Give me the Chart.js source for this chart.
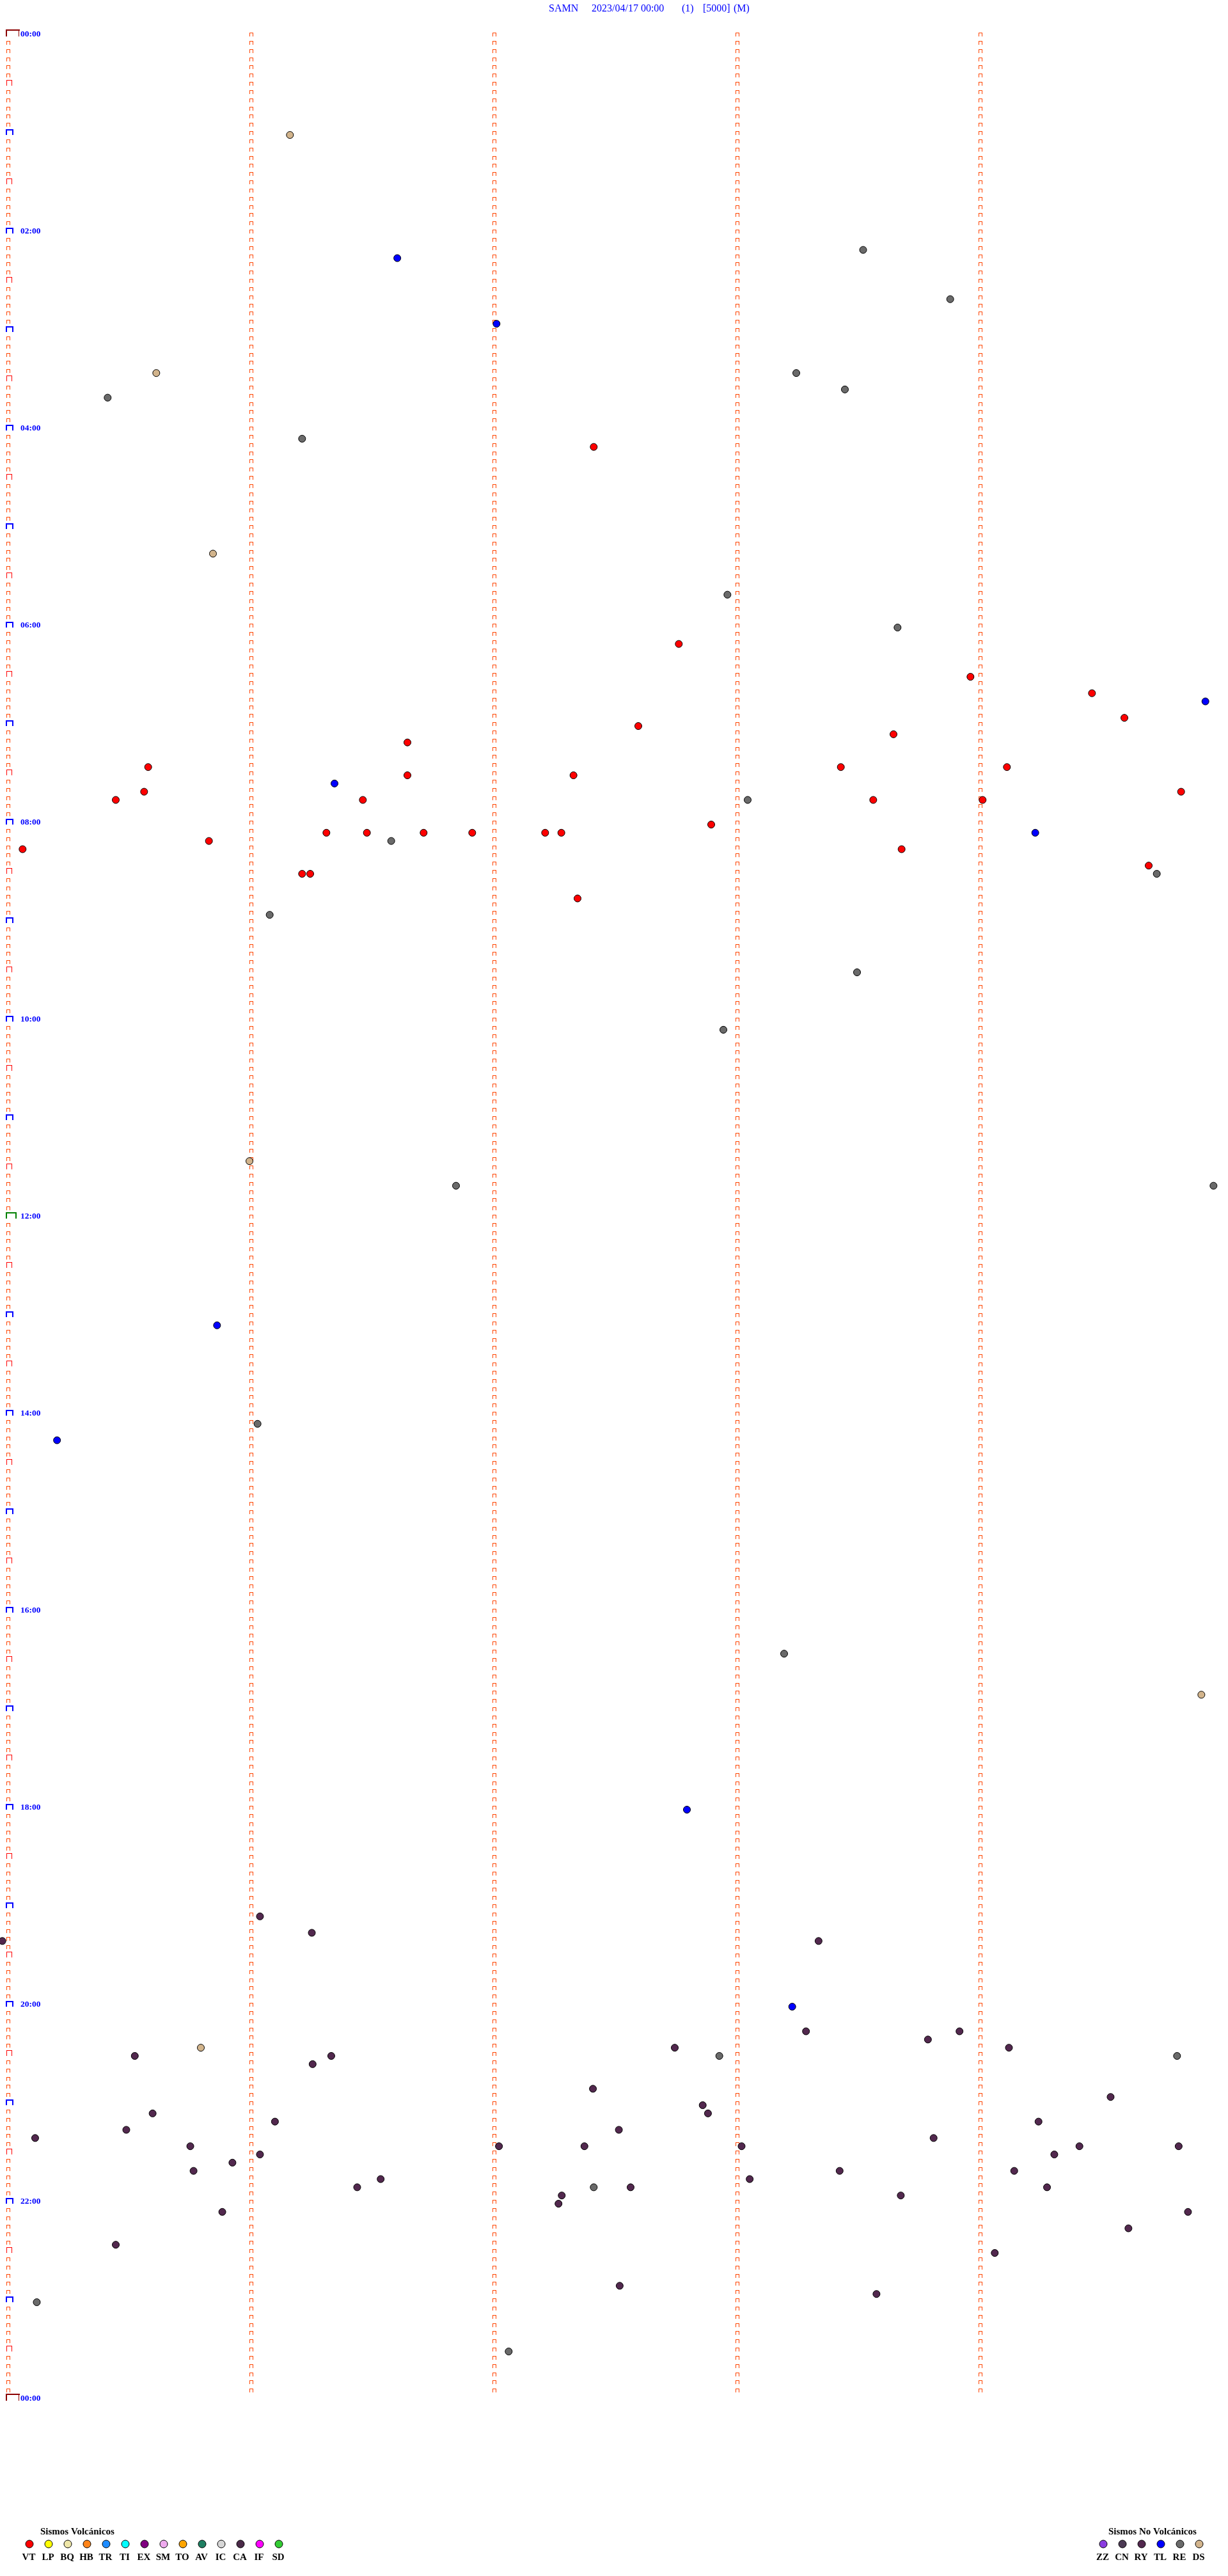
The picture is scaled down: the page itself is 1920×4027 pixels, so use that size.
<!DOCTYPE html>
<html><head><meta charset="utf-8">
<script src="https://cdn.jsdelivr.net/npm/chart.js@4.4.0/dist/chart.umd.min.js"></script>
<style>html,body{margin:0;padding:0;background:#fff;}canvas{display:block;}</style>
</head><body>
<canvas id="c" width="1920" height="4027" style="width:1920px;height:4027px"></canvas>
<script>
// ---- data ----
const titleParts = ["SAMN", "2023/04/17 00:00", "(1)", "[5000]", "(M)"];
const hourLabels = ["00:00","02:00","04:00","06:00","08:00","10:00","12:00","14:00","16:00","18:00","20:00","22:00","00:00"];
const hourLabelMinutes = [0,120,240,360,480,600,720,840,960,1080,1200,1320,1440];
const columnSeconds = [0, 60, 120, 180, 240];
const rowMinutes = 5;

// event row (minute of day) and seconds within the 5-minute row
const vtMin = [250,370,390,400,415,420,425,430,445,445,445,450,450,460,460,465,465,465,465,480,485,485,485,485,485,485,490,495,495,505,510,510,525];
const vtSec = [145,166,238,268,276,156,219,99,35,206,247,99,140,34,290,27,88,214,241,174,79,89,103,115,133,137,50,4,221,282,73,75,141];
const tlMin = [135,175,405,455,485,785,855,1080,1200];
const tlSec = [96.5,121,296,81,254,52,12.5,168,194];
const reMin = [130,160,220,205,215,245,340,360,465,490,510,535,570,605,700,700,845,985,1230,1230,1310,1380,1410];
const reSec = [211.5,233,25,195,207,73,178,220,183,95,284,65,210,177,111,298,62,192,176,289,145,7.5,124];
const dsMin = [60,205,315,685,1010,1225];
const dsSec = [70,37,51,60,295,48];
const ryMin = [1145,1155,1160,1160,1215,1215,1220,1225,1225,1230,1230,1235,1250,1255,1260,1265,1265,1270,1270,1275,1275,1280,1280,1285,1285,1285,1285,1285,1285,1290,1290,1295,1300,1300,1300,1305,1305,1310,1310,1310,1315,1315,1320,1325,1325,1335,1345,1350,1370,1375];
const rySec = [62.6,75.4,-1,200.5,197.4,235.3,227.5,165,247.5,31.7,80.2,75.6,144.8,272.6,171.9,36.1,173.2,66.3,254.8,29.6,151.2,7.1,228.9,45.4,121.6,142.7,181.5,264.9,289.4,62.6,258.7,55.8,46.2,205.7,248.8,92.4,183.5,86.6,154.1,256.9,137.1,220.8,136.3,53.3,291.7,277,27,244,151.4,214.8];

const volcTitle = "Sismos Volcánicos";
const volcCodes = ["VT","LP","BQ","HB","TR","TI","EX","SM","TO","AV","IC","CA","IF","SD"];
const volcColors = ["#FF0000","#FFFF00","#EEE6A8","#FF8418","#1E8CFF","#00FFFF","#800080","#EEAAEE","#FFA500","#1F7F62","#D6D6D6","#4A2A48","#FF00FF","#33CC33"];
const nonVolcTitle = "Sismos No Volcánicos";
const nonVolcCodes = ["ZZ","CN","RY","TL","RE","DS"];
const nonVolcColors = ["#8A3CE0","#4C3A54","#52284E","#0000FF","#6A6A6A","#D2B48C"];

function pts(mins, secs){ return mins.map((m,i)=>({x:secs[i], y:m})); }

const drumPlugin = {
  id: 'drum',
  beforeDraw(chart){
    const ctx = chart.ctx; ctx.save(); ctx.fillStyle = '#fff'; ctx.fillRect(0,0,chart.width,chart.height); ctx.restore();
  },
  beforeDatasetsDraw(chart){
    const ctx = chart.ctx, xs = chart.scales.x, ys = chart.scales.y;
    ctx.save();
    const nRows = 1440 / rowMinutes;
    for (let c = 0; c < columnSeconds.length; c++){
      const x0 = Math.round(xs.getPixelForValue(columnSeconds[c]));
      const last = c === 0 ? nRows : nRows - 1;
      for (let r = 0; r <= last; r++){
        const y = Math.round(ys.getPixelForValue(r * rowMinutes));
        if (c === 0 && (r === 0 || r === nRows)){
          ctx.fillStyle = '#8B0000';
          ctx.fillRect(x0 - 1, y - 11, 22, 2);
          ctx.fillRect(x0 - 1, y - 11, 2, 11);
          ctx.fillRect(x0 + 19, y - 11, 1, 11);
        } else if (c === 0 && r === nRows/2){
          ctx.fillStyle = '#008000';
          ctx.fillRect(x0 - 1, y - 10, 17, 2);
          ctx.fillRect(x0 - 1, y - 10, 2, 10);
          ctx.fillRect(x0 + 14, y - 10, 2, 10);
        } else if (c === 0 && r % 12 === 0){
          ctx.fillStyle = '#0000FF';
          ctx.fillRect(x0 - 1, y - 9, 12, 2);
          ctx.fillRect(x0 - 1, y - 9, 2, 9);
          ctx.fillRect(x0 + 9, y - 9, 2, 9);
        } else if (c === 0 && r % 6 === 0){
          ctx.fillStyle = '#FF0000';
          ctx.fillRect(x0, y - 9, 9, 1);
          ctx.fillRect(x0, y - 9, 1, 9);
          ctx.fillRect(x0 + 8, y - 9, 1, 9);
        } else {
          ctx.fillStyle = '#FF4500';
          ctx.fillRect(x0, y - 6, 6, 1);
          ctx.fillRect(x0, y - 6, 1, 6);
          ctx.fillRect(x0 + 5, y - 6, 1, 6);
        }
      }
    }
    // hour labels
    ctx.fillStyle = '#0000FF';
    ctx.font = "bold 13.5px 'Liberation Serif'";
    ctx.textAlign = 'left';
    ctx.textBaseline = 'alphabetic';
    const lx = Math.round(xs.getPixelForValue(columnSeconds[0])) + 22;
    hourLabels.forEach((t,i)=>{
      const y = ys.getPixelForValue(hourLabelMinutes[i]);
      ctx.fillText(t, lx, y);
    });
    ctx.restore();
  },
  afterDraw(chart){
    const ctx = chart.ctx;
    ctx.save();
    // title
    ctx.fillStyle = '#0000FF';
    ctx.font = "16px 'Liberation Serif'";
    ctx.textBaseline = 'alphabetic';
    ctx.textAlign = 'left';
    const tx = [858, 925, 1066, 1099, 1147];
    titleParts.forEach((t,i)=> ctx.fillText(t, tx[i], 18));
    // legends
    function drawLegend(title, codes, colors, titleX, firstX){
      ctx.fillStyle = '#000';
      ctx.font = "bold 15px 'Liberation Serif'";
      ctx.textAlign = 'left';
      ctx.fillText(title, titleX, 3962);
      codes.forEach((code,i)=>{
        const cx = firstX + 30*i;
        ctx.beginPath();
        ctx.arc(cx, 3977, 6, 0, Math.PI*2);
        ctx.fillStyle = colors[i];
        ctx.fill();
        ctx.lineWidth = 1;
        ctx.strokeStyle = '#000';
        ctx.stroke();
        ctx.fillStyle = '#000';
        ctx.textAlign = 'center';
        ctx.fillText(code, cx - 1, 4002);
      });
    }
    drawLegend(volcTitle, volcCodes, volcColors, 63, 46);
    drawLegend(nonVolcTitle, nonVolcCodes, nonVolcColors, 1733, 1725);
    ctx.restore();
  }
};

function ds(label, mins, secs, color){
  return { label, data: pts(mins, secs), backgroundColor: color, borderColor: '#000', borderWidth: 1, pointRadius: 5.5, pointHoverRadius: 5.5, clip: false };
}

new Chart(document.getElementById('c'), {
  type: 'scatter',
  data: { datasets: [
    ds('VT', vtMin, vtSec, '#FF0000'),
    ds('TL', tlMin, tlSec, '#0000FF'),
    ds('RE', reMin, reSec, '#6A6A6A'),
    ds('DS', dsMin, dsSec, '#D2B48C'),
    ds('RY', ryMin, rySec, '#52284E')
  ]},
  options: {
    responsive: false, animation: false, devicePixelRatio: 1,
    layout: { padding: { left: 10, right: 10, top: 57, bottom: 274 } },
    scales: {
      x: { type: 'linear', min: 0, max: 300, display: false },
      y: { type: 'linear', min: 0, max: 1440, reverse: true, display: false }
    },
    plugins: { legend: { display: false }, tooltip: { enabled: false }, title: { display: false } }
  },
  plugins: [drumPlugin]
});
</script>
</body></html>
